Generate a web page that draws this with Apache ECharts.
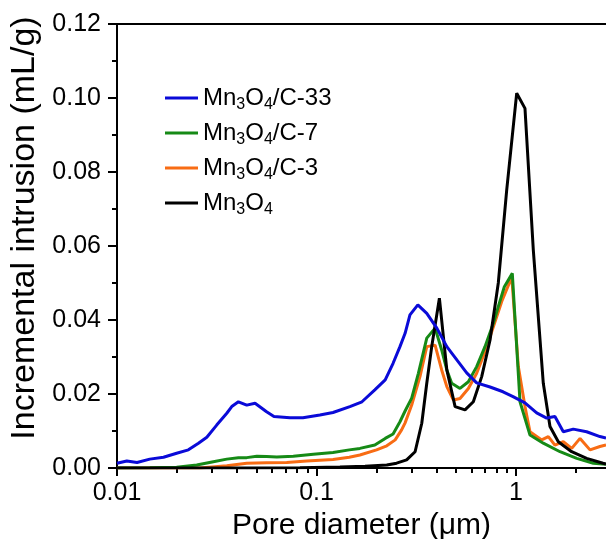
<!DOCTYPE html>
<html>
<head>
<meta charset="utf-8">
<script src="https://cdn.jsdelivr.net/npm/echarts@6/dist/echarts.min.js"></script>
<style>
  html, body { margin: 0; padding: 0; background: #fff; }
  #chart { width: 606px; height: 539px; }
</style>
</head>
<body>
<div id="chart"></div>
<script>
// pore diameter (um) / incremental intrusion (mL/g)
const c33Diam = [0.0100, 0.0112, 0.0126, 0.0146, 0.0171, 0.0199, 0.0228, 0.0256, 0.0282, 0.0316, 0.0355, 0.0376, 0.0406, 0.0447, 0.0492, 0.0562, 0.0612, 0.0736, 0.0855, 0.104, 0.121, 0.147, 0.169, 0.196, 0.221, 0.242, 0.262, 0.278, 0.294, 0.322, 0.357, 0.401, 0.450, 0.505, 0.566, 0.635, 0.741, 0.861, 0.966, 1.109, 1.269, 1.424, 1.567, 1.726, 1.937, 2.259, 2.634, 2.825];
const c33Vals = [0.0013, 0.0019, 0.0015, 0.0024, 0.0029, 0.0040, 0.0049, 0.0067, 0.0083, 0.0116, 0.0148, 0.0166, 0.0179, 0.0170, 0.0175, 0.0152, 0.0139, 0.0136, 0.0136, 0.0143, 0.0150, 0.0166, 0.0179, 0.0211, 0.0238, 0.0283, 0.0328, 0.0364, 0.0414, 0.0441, 0.0418, 0.0378, 0.0328, 0.0292, 0.0257, 0.0230, 0.0219, 0.0206, 0.0193, 0.0176, 0.0149, 0.0135, 0.0139, 0.0098, 0.0105, 0.0098, 0.0085, 0.0081];

const c7Diam = [0.0100, 0.0146, 0.0199, 0.0251, 0.0304, 0.0355, 0.0406, 0.0447, 0.0502, 0.0562, 0.0632, 0.0765, 0.0964, 0.121, 0.146, 0.165, 0.196, 0.221, 0.242, 0.262, 0.278, 0.300, 0.324, 0.357, 0.393, 0.424, 0.450, 0.476, 0.524, 0.577, 0.635, 0.699, 0.770, 0.815, 0.874, 0.958, 1.047, 1.175, 1.370, 1.662, 2.016, 2.441, 2.825];
const c7Vals = [0.0000, 0.0001, 0.0002, 0.0008, 0.0017, 0.0024, 0.0028, 0.0028, 0.0032, 0.0031, 0.0030, 0.0032, 0.0037, 0.0042, 0.0049, 0.0053, 0.0062, 0.0080, 0.0092, 0.0125, 0.0154, 0.0189, 0.0256, 0.0351, 0.0378, 0.0319, 0.0265, 0.0229, 0.0215, 0.0233, 0.0274, 0.0328, 0.0391, 0.0436, 0.0490, 0.0526, 0.0179, 0.0089, 0.0067, 0.0044, 0.0026, 0.0013, 0.0010];

const c3Diam = [0.0100, 0.0261, 0.0355, 0.0447, 0.0562, 0.0709, 0.0892, 0.121, 0.146, 0.165, 0.200, 0.225, 0.248, 0.267, 0.278, 0.300, 0.330, 0.357, 0.393, 0.424, 0.450, 0.485, 0.524, 0.577, 0.635, 0.699, 0.770, 0.848, 0.952, 1.027, 1.109, 1.175, 1.345, 1.452, 1.567, 1.726, 1.902, 2.094, 2.349, 2.634, 2.825];
const c3Vals = [0.0000, 0.0000, 0.0006, 0.0013, 0.0014, 0.0015, 0.0019, 0.0023, 0.0029, 0.0035, 0.0049, 0.0060, 0.0076, 0.0103, 0.0122, 0.0170, 0.0247, 0.0328, 0.0332, 0.0265, 0.0220, 0.0184, 0.0188, 0.0215, 0.0256, 0.0314, 0.0382, 0.0450, 0.0516, 0.0274, 0.0166, 0.0098, 0.0076, 0.0085, 0.0062, 0.0071, 0.0053, 0.0080, 0.0049, 0.0058, 0.0062];

const bareDiam = [0.0100, 0.0465, 0.0826, 0.131, 0.175, 0.225, 0.252, 0.283, 0.312, 0.337, 0.357, 0.378, 0.413, 0.450, 0.495, 0.555, 0.611, 0.673, 0.741, 0.815, 0.898, 1.008, 1.109, 1.221, 1.370, 1.480, 1.629, 1.901, 2.259, 2.729, 2.825];
const bareVals = [0.0000, 0.0000, 0.0001, 0.0003, 0.0005, 0.0008, 0.0013, 0.0022, 0.0044, 0.0121, 0.0229, 0.0328, 0.0459, 0.0265, 0.0166, 0.0157, 0.0179, 0.0247, 0.0346, 0.0500, 0.0751, 0.1013, 0.0972, 0.0589, 0.0229, 0.0112, 0.0071, 0.0044, 0.0026, 0.0013, 0.0011];

const seriesNames = ['Mn₃O₄/C-33', 'Mn₃O₄/C-7', 'Mn₃O₄/C-3', 'Mn₃O₄'];
const seriesColors = ['#0a0ad8', '#168a16', '#f86c14', '#000000'];

const xMin = 0.01, xMax = 2.825;
const xTickValues = [0.01, 0.1, 1];
const xTickLabels = ['0.01', '0.1', '1'];

// the x axis is logarithmic: positions are log10 of the diameter
const lg = Math.log10;
function pairs(d, v) { return d.map((x, i) => [lg(x), v[i]]); }

let minorTicks = [];
xTickValues.forEach(dec => {
  for (let k = 2; k <= 9; k++) if (k * dec <= xMax) minorTicks.push(lg(k * dec));
});

const font = 'Liberation Sans, Arial, Helvetica, sans-serif';
const black = '#000';

function legendLabel(name) {
  return name.split(/([₃₄])/).map(p => {
    if (p === '₃') return '{s|3}';
    if (p === '₄') return '{s|4}';
    return p ? '{t|' + p + '}' : '';
  }).join('');
}

const myChart = echarts.init(document.getElementById('chart'));

const dataSets = [pairs(c33Diam, c33Vals), pairs(c7Diam, c7Vals), pairs(c3Diam, c3Vals), pairs(bareDiam, bareVals)];
const drawOrder = [2, 1, 3, 0];

myChart.setOption({
  animation: false,
  textStyle: { fontFamily: font },
  grid: { left: 117, right: 0, top: 24, bottom: 71, containLabel: false, outerBoundsMode: 'none' },
  legend: {
    orient: 'vertical',
    left: 160,
    top: 78,
    icon: 'rect',
    itemWidth: 33,
    itemHeight: 3,
    itemGap: 5,
    data: seriesNames,
    formatter: legendLabel,
    textStyle: {
      color: black,
      rich: {
        t: { fontSize: 24, fontFamily: font, color: black },
        s: { fontSize: 16, fontFamily: font, color: black, lineHeight: 16, padding: [14, 0, 0, 0] }
      }
    }
  },
  xAxis: [
    {
      type: 'value',
      min: lg(xMin),
      max: lg(xMax),
      z: 3,
      name: 'Pore diameter (\u03bcm)',
      nameLocation: 'middle',
      nameGap: 43,
      nameTextStyle: { fontSize: 30, color: black, fontFamily: font },
      axisLine: { onZero: false, lineStyle: { color: black, width: 2 } },
      axisTick: { customValues: xTickValues.map(lg), length: 8, lineStyle: { color: black, width: 2 } },
      axisLabel: {
        customValues: xTickValues.map(lg),
        fontSize: 25,
        color: black,
        margin: 13,
        formatter: v => xTickLabels[xTickValues.findIndex(t => Math.abs(lg(t) - v) < 1e-6)]
      },
      splitLine: { show: false }
    },
    {
      type: 'value',
      position: 'bottom',
      min: lg(xMin),
      max: lg(xMax),
      z: 3,
      axisLine: { show: false, onZero: false },
      axisTick: { customValues: minorTicks, length: 5, lineStyle: { color: black, width: 2 } },
      axisLabel: { show: false },
      splitLine: { show: false }
    },
    {
      type: 'value',
      position: 'top',
      min: lg(xMin),
      max: lg(xMax),
      z: 3,
      axisLine: { onZero: false, lineStyle: { color: black, width: 2 } },
      axisTick: { show: false },
      axisLabel: { show: false },
      splitLine: { show: false }
    }
  ],
  yAxis: {
    type: 'value',
    min: 0,
    max: 0.12,
    interval: 0.02,
    z: 3,
    name: 'Incremental intrusion (mL/g)',
    nameLocation: 'middle',
    nameGap: 52,
    nameTextStyle: { fontSize: 34, color: black, fontFamily: font, padding: [0, 0, 0, 36] },
    axisLine: { onZero: false, lineStyle: { color: black, width: 2 } },
    axisTick: { length: 9, lineStyle: { color: black, width: 2 } },
    minorTick: { show: true, splitNumber: 2, length: 5, lineStyle: { color: black, width: 2 } },
    axisLabel: { fontSize: 25, color: black, margin: 16, formatter: v => v.toFixed(2) },
    splitLine: { show: false }
  },
  series: drawOrder.map(i => ({
    name: seriesNames[i],
    type: 'line',
    xAxisIndex: 0,
    data: dataSets[i],
    symbol: 'none',
    color: seriesColors[i],
    lineStyle: { width: 3, color: seriesColors[i] }
  }))
});
</script>
</body>
</html>
